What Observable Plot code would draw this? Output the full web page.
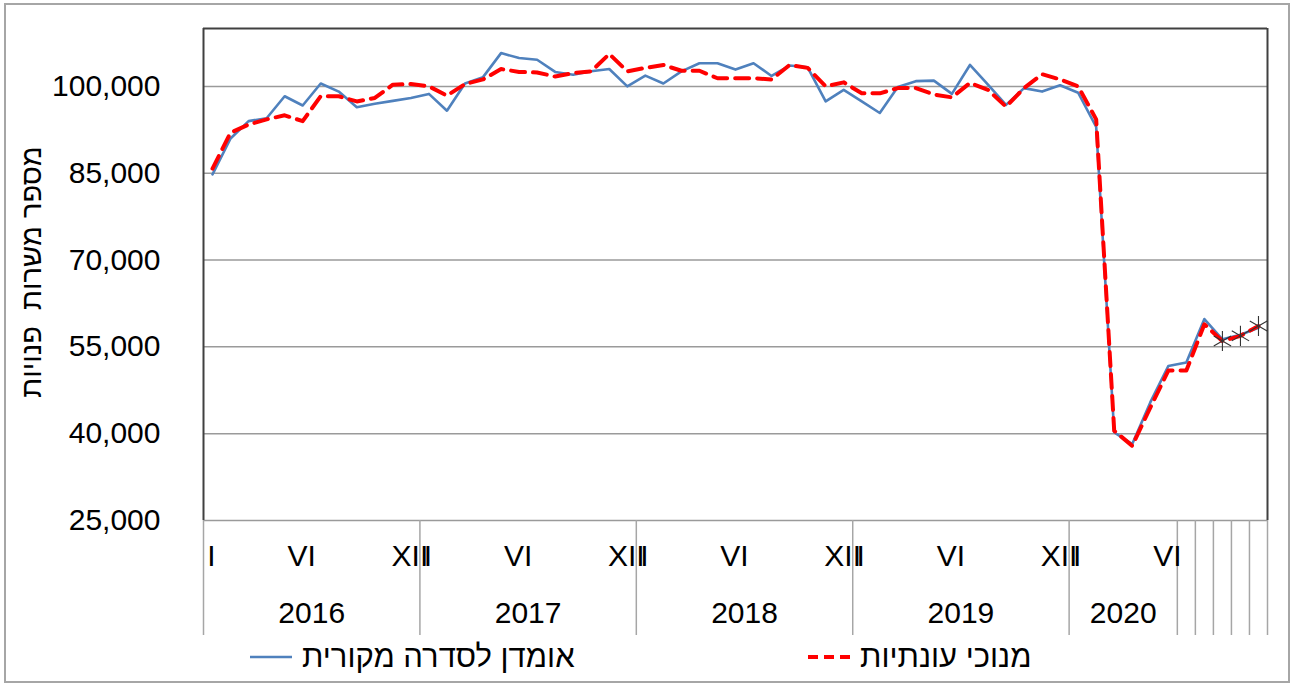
<!DOCTYPE html>
<html><head><meta charset="utf-8">
<script src="https://cdn.jsdelivr.net/npm/d3@7"></script>
<script src="https://cdn.jsdelivr.net/npm/@observablehq/plot@0.6"></script>
<style>
html,body{margin:0;padding:0;background:#fff;}
body{width:1292px;height:684px;position:relative;overflow:hidden;font-family:"Liberation Sans",Arial,sans-serif;}
#frame{position:absolute;left:4px;top:3px;width:1282px;height:676px;border:2px solid #a6a6a6;pointer-events:none;}
#legend{position:absolute;left:0;top:640px;width:1292px;height:40px;}
.item{position:absolute;top:0;height:34px;display:flex;align-items:center;gap:10px;font-size:31px;color:#000;white-space:nowrap;}
</style></head><body>
<div id="chart"></div>
<div id="legend"></div>
<div id="frame"></div>
<script>
// ---- data ----
const years = ["2016", "2017", "2018", "2019", "2020"];
const monthsPerYear = [12, 12, 12, 12, 11];
const original = [
  84800, 91000, 94000, 94500, 98300, 96700, 100500, 99100, 96400, 97000, 97500, 98000,
  98700, 95800, 100500, 101600, 105750, 104900, 104600, 102500, 102000, 102600, 103000, 100000,
  101850, 100500, 102600, 104000, 104000, 102900, 104000, 101800, 103600, 103300, 97400, 99400,
  97400, 95400, 99900, 100900, 101000, 98700, 103700, 100300, 96800, 99700, 99100, 100200,
  98900, 93000, 40200, 38200, 45400, 51700, 52300, 59800, 56300, 57100, 58300
];
const seasonal = [
  85800, 92000, 93400, 94300, 95000, 94000, 98300, 98300, 97400, 98000, 100300, 100400,
  100000, 98400, 100400, 101200, 103000, 102500, 102400, 101700, 102300, 102600, 105600, 102600,
  103200, 103700, 102700, 102700, 101400, 101400, 101400, 101200, 103700, 103200, 100000, 100700,
  98800, 98800, 99700, 99700, 98600, 98100, 100600, 99400, 96500, 99700, 102100, 101200,
  100000, 94300, 40500, 37900, 44500, 50900, 50900, 58900, 56000, 56900, 58600
];
const starredCount = 3; // last points marked with asterisk
const monthTickMonths = [1, 6, 12];
const monthTickLabels = ["I", "VI", "XII"];
const yTicks = [25000, 40000, 55000, 70000, 85000, 100000];
const yDomain = [25000, 110000];
const seriesNames = ["אומדן לסדרה מקורית", "מנוכי עונתיות"];
const yTitle = "מספר משרות  פנויות";
// 2020: Jan–Jun grouped under the year, then single-month groups with no label
const lastYearGroupMonths = 6;

// ---- derived tables ----
const rows = original.map((v, i) => ({i, original: v, seasonal: seasonal[i]}));
const n = rows.length;
const monthTicks = [];
const groups = [];
let start = 0;
years.forEach((yr, k) => {
  const m = monthsPerYear[k];
  monthTickMonths.forEach((mm, j) => { if (mm <= m) monthTicks.push({i: start + mm - 1, label: monthTickLabels[j]}); });
  if (k < years.length - 1) {
    groups.push({label: yr, a: start, b: start + m - 1});
  } else {
    groups.push({label: yr, a: start, b: start + lastYearGroupMonths - 1});
    for (let t = lastYearGroupMonths; t < m; t++) groups.push({label: "", a: start + t, b: start + t});
  }
  start += m;
});
const edges = [groups[0].a - 0.5, ...groups.map(g => g.b + 0.5)];

// ---- layout ----
const W = 1292, H = 640, mTop = 28, mBottom = 120, mLeft = 203, mRight = 25;
const plotH = H - mTop - mBottom;
const font = "'Liberation Sans', Arial, sans-serif";

const chart = Plot.plot({
  width: W, height: H,
  marginTop: mTop, marginBottom: mBottom, marginLeft: mLeft, marginRight: mRight,
  style: {fontFamily: font, color: "#000", background: "#fff", overflow: "visible"},
  x: {domain: [-0.5, n - 0.5], axis: null},
  y: {domain: yDomain, axis: null},
  marks: [
    Plot.ruleY(yTicks, {stroke: "#9a9a9a", strokeWidth: 1.5}),
    Plot.ruleY([yDomain[1]], {stroke: "#404040", strokeWidth: 2}),
    Plot.ruleX([edges[0], edges[edges.length - 1]], {stroke: "#404040", strokeWidth: 2}),
    Plot.ruleX(edges, {stroke: "#a6a6a6", strokeWidth: 1.5, insetTop: plotH, insetBottom: -115}),
    Plot.axisY({ticks: yTicks, tickFormat: d3.format(","), tickSize: 0, tickPadding: 43, fontSize: 30, label: null, fill: "#000"}),
    Plot.text(monthTicks, {x: "i", text: "label", frameAnchor: "bottom", dy: 36, dx: -1, fontSize: 30, fill: "#000", lineAnchor: "middle"}),
    Plot.text(groups, {x: d => (d.a + d.b) / 2, text: "label", frameAnchor: "bottom", dy: 93, fontSize: 30, fill: "#000", lineAnchor: "middle"}),
    Plot.line(rows, {x: "i", y: "original", stroke: "#4f81bd", strokeWidth: 2.6, strokeLinejoin: "round"}),
    Plot.line(rows, {x: "i", y: "seasonal", stroke: "#ff0000", strokeWidth: 4, strokeDasharray: "14,8", strokeLinejoin: "round"}),
    Plot.dot(rows.slice(n - starredCount), {x: "i", y: "seasonal", symbol: "asterisk", r: 9.5, stroke: "#333", strokeWidth: 1.1})
  ]
});
document.getElementById("chart").appendChild(chart);

// y axis title
d3.select(chart).append("text")
  .attr("transform", `translate(33,${mTop + plotH / 2 - 2}) rotate(-90)`)
  .attr("text-anchor", "middle").attr("dominant-baseline", "middle")
  .style("font-size", "29px").style("font-family", font).style("white-space", "pre")
  .attr("fill", "#000")
  .text(yTitle);

// legend
const legend = d3.select("#legend");
const items = [
  {name: seriesNames[0], left: 250, stroke: "#4f81bd", width: 2.6, dash: null},
  {name: seriesNames[1], left: 808, stroke: "#ff0000", width: 4, dash: "10,6"}
];
items.forEach(it => {
  const div = legend.append("div").attr("class", "item").style("left", it.left + "px");
  const s = div.append("svg").attr("width", 42).attr("height", 10);
  s.append("line").attr("x1", 0).attr("x2", 42).attr("y1", 5).attr("y2", 5)
    .attr("stroke", it.stroke).attr("stroke-width", it.width).attr("stroke-dasharray", it.dash);
  div.append("span").text(it.name);
});
</script>
</body></html>
